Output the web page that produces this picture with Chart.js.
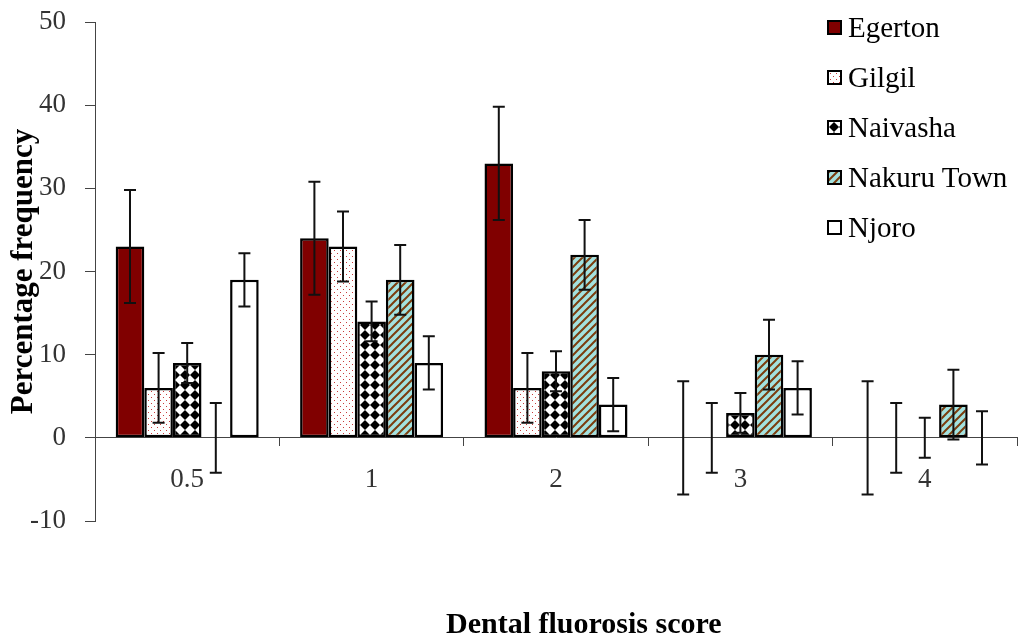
<!DOCTYPE html>
<html>
<head>
<meta charset="utf-8">
<title>Dental fluorosis score</title>
<script src="https://cdn.jsdelivr.net/npm/chart.js@4.4.1/dist/chart.umd.min.js"></script>
<style>
  body { margin: 0; background: #fff; overflow: hidden; }
  #wrap { position: relative; width: 1018px; height: 634px; }
  #legend { position: absolute; left: 827px; top: 2px; font-family: "Liberation Serif", "Times New Roman", serif; font-size: 29px; color: #000; }
  .item { display: flex; align-items: center; height: 50px; white-space: nowrap; }
  .swatch { width: 11px; height: 11px; border: 2px solid #000; margin-right: 6px; background-color: #fff; }
  #xtitle { position: absolute; left: 446px; top: 608px; font: bold 30px/30px "Liberation Serif", "Times New Roman", serif; color: #000; white-space: nowrap; }
</style>
</head>
<body>
<div id="wrap">
  <canvas id="fluorosisChart"></canvas>
  <div id="legend"></div>
  <div id="xtitle">Dental fluorosis score</div>
</div>
<script>
// values
const categories = ['0.5', '1', '2', '3', '4'];
const seriesNames = ['Egerton', 'Gilgil', 'Naivasha', 'Nakuru Town', 'Njoro'];
const egerton = [23, 24, 33, 0, 0];
const gilgil = [6, 23, 6, 0, 0];
const naivasha = [9, 14, 8, 3, 0];
const nakuruTown = [0, 19, 22, 10, 4];
const njoro = [19, 9, 4, 6, 0];
const egertonErr = [6.8, 6.8, 6.8, 6.8, 6.8];
const gilgilErr = [4.2, 4.2, 4.2, 4.2, 4.2];
const naivashaErr = [2.4, 2.4, 2.4, 2.4, 2.4];
const nakuruTownErr = [4.2, 4.2, 4.2, 4.2, 4.2];
const njoroErr = [3.2, 3.2, 3.2, 3.2, 3.2];
const yTicks = [-10, 0, 10, 20, 30, 40, 50];

const serif = '"Liberation Serif", "Times New Roman", serif';

function makeTile(w, h, draw) {
    const c = document.createElement('canvas');
    c.width = w;
    c.height = h;
    draw(c.getContext('2d'), w, h);
    return c;
}

const solidTile = makeTile(4, 4, (g, w, h) => {
    g.fillStyle = '#800000';
    g.fillRect(0, 0, w, h);
});
const dotTile = makeTile(6, 6, (g, w, h) => {
    g.fillStyle = '#fff';
    g.fillRect(0, 0, w, h);
    g.fillStyle = '#c83c3c';
    g.fillRect(1, 1, 1, 1);
    g.fillRect(4, 4, 1, 1);
});
const checkTile = makeTile(10, 10, (g, w, h) => {
    g.fillStyle = '#fff';
    g.fillRect(0, 0, w, h);
    g.fillStyle = '#000';
    g.beginPath();
    g.moveTo(5, 0); g.lineTo(10, 5); g.lineTo(5, 10); g.lineTo(0, 5);
    g.closePath();
    g.fill();
});
const stripeTile = makeTile(8, 8, (g, w, h) => {
    g.fillStyle = '#a3e2df';
    g.fillRect(0, 0, w, h);
    g.strokeStyle = '#7b3d0e';
    g.lineWidth = 2;
    g.beginPath();
    g.moveTo(0, 8); g.lineTo(8, 0);
    g.moveTo(-1, 1); g.lineTo(1, -1);
    g.moveTo(7, 9); g.lineTo(9, 7);
    g.stroke();
});
const whiteTile = makeTile(4, 4, (g, w, h) => {
    g.fillStyle = '#fff';
    g.fillRect(0, 0, w, h);
});

const canvas = document.getElementById('fluorosisChart');
const ctx = canvas.getContext('2d');
const tiles = [solidTile, dotTile, checkTile, stripeTile, whiteTile];
const fills = ['#800000', ctx.createPattern(dotTile, 'repeat'), ctx.createPattern(checkTile, 'repeat'),
    ctx.createPattern(stripeTile, 'repeat'), '#ffffff'];
const values = [egerton, gilgil, naivasha, nakuruTown, njoro];
const errors = [egertonErr, gilgilErr, naivashaErr, nakuruTownErr, njoroErr];

// legend in html, swatches use the same tiles as the bars
const legend = document.getElementById('legend');
seriesNames.forEach((name, i) => {
    const item = document.createElement('div');
    item.className = 'item';
    const sw = document.createElement('span');
    sw.className = 'swatch';
    sw.style.backgroundImage = 'url(' + tiles[i].toDataURL() + ')';
    item.appendChild(sw);
    item.appendChild(document.createTextNode(name));
    legend.appendChild(item);
});

const errorBars = {
    id: 'errorBars',
    afterDatasetsDraw(chart) {
        const c = chart.ctx;
        const yScale = chart.scales.y;
        c.save();
        c.strokeStyle = '#111';
        c.lineWidth = 2;
        chart.data.datasets.forEach((ds, i) => {
            const meta = chart.getDatasetMeta(i);
            meta.data.forEach((bar, j) => {
                const v = ds.data[j];
                const e = ds.errors[j];
                const top = yScale.getPixelForValue(v + e);
                const bot = yScale.getPixelForValue(v - e);
                c.beginPath();
                c.moveTo(bar.x, top); c.lineTo(bar.x, bot);
                c.moveTo(bar.x - 6, top); c.lineTo(bar.x + 6, top);
                c.moveTo(bar.x - 6, bot); c.lineTo(bar.x + 6, bot);
                c.stroke();
            });
        });
        c.restore();
    }
};

new Chart(canvas, {
    type: 'bar',
    data: {
        labels: categories,
        datasets: seriesNames.map((name, i) => ({
            label: name,
            data: values[i],
            errors: errors[i],
            backgroundColor: fills[i],
            borderColor: '#000',
            borderWidth: 2.5,
            borderSkipped: false,
            categoryPercentage: 0.7755,
            barPercentage: 1
        }))
    },
    options: {
        responsive: true,
        maintainAspectRatio: false,
        animation: false,
        layout: { padding: { top: 22, bottom: 113, left: 0, right: 1 } },
        plugins: {
            legend: { display: false },
            tooltip: { enabled: false }
        },
        scales: {
            x: {
                position: { y: 0 },
                offset: true,
                grid: { drawOnChartArea: false, drawTicks: true, tickLength: 8, color: '#444', offset: true },
                border: { display: true, color: '#444', width: 1 },
                ticks: { font: { family: serif, size: 27 }, color: '#333', padding: 18 }
            },
            y: {
                min: -10,
                max: 50,
                afterFit: s => {
                    s.width = 95;
                    // plot edges come from layout padding only
                    s.paddingTop = 0;
                    s.paddingBottom = 0;
                },
                afterBuildTicks: s => { s.ticks = yTicks.map(v => ({ value: v })); },
                grid: { drawOnChartArea: false, drawTicks: true, tickLength: 10, color: '#444' },
                border: { display: true, color: '#444', width: 1 },
                ticks: { font: { family: serif, size: 27 }, color: '#333', padding: 19 },
                title: {
                    display: true,
                    text: 'Percentage frequency',
                    font: { family: serif, size: 31, weight: 'bold' },
                    color: '#000',
                    padding: { top: 5, bottom: 0 }
                }
            }
        }
    },
    plugins: [errorBars]
});
</script>
</body>
</html>
